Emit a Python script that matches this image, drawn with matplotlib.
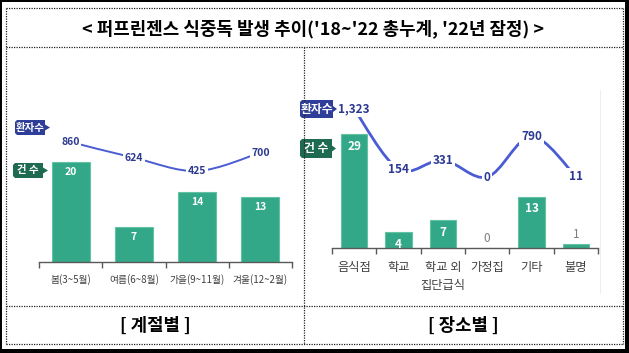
import matplotlib
matplotlib.use("Agg")
import matplotlib.pyplot as plt
from matplotlib.path import Path
from matplotlib.patches import PathPatch, Rectangle, Polygon
from matplotlib.transforms import Affine2D
from matplotlib.lines import Line2D

plt.rcParams['font.family'] = ['Noto Sans CJK KR', 'DejaVu Sans']

# ---------------- data ----------------
title = "< 퍼프린젠스 식중독 발생 추이('18~'22 총누계, '22년 잠정) >"
season_labels = ["봄(3~5월)", "여름(6~8월)", "가을(9~11월)", "겨울(12~2월)"]
season_cases = [20, 7, 14, 13]
season_patients = [860, 624, 425, 700]
place_labels = ["음식점", "학교", "학교 외\n집단급식", "가정집", "기타", "불명"]
place_cases = [29, 4, 7, 0, 13, 1]
place_patients = [1323, 154, 331, 0, 790, 11]
left_caption = "[ 계절별 ]"
right_caption = "[ 장소별 ]"
tag_patients = "환자수"
tag_cases = "건 수"

BAR = "#33a889"
BAR_EDGE = "#62c3a2"
LINE = "#4a5cd4"
NAVY_TXT = "#2b3990"
TAG_NAVY = "#2f3e98"
TAG_GREEN = "#1f6b52"
TICK_TXT = "#404040"

W, H = 629, 353
fig = plt.figure(figsize=(W / 100, H / 100), dpi=100)
px = Affine2D().scale(1 / W, -1 / H).translate(0, 1) + fig.transFigure

# ---------------- frame ----------------
for (x0, y0, w, h) in [(0, 0, W, 2), (0, 0, 2, H), (625, 0, 4, H), (0, 349, W, 4)]:
    fig.patches.append(Rectangle((x0, y0), w, h, transform=px, color="black", lw=0))

dot = dict(color="#222222", lw=0.9, linestyle=(0, (1, 1)), transform=px)
for (xa, ya, xb, yb) in [(6, 8, 623, 8), (6, 47, 623, 47), (6, 306, 623, 306), (6, 344, 623, 344),
                         (6, 8, 6, 344), (623, 8, 623, 344), (304, 47, 304, 344)]:
    fig.lines.append(Line2D([xa, xb], [ya, yb], **dot))
fig.lines.append(Line2D([600, 600], [90, 293], color="#eeeeee", lw=0.8, transform=px))

fig.text(313, 28.5, title, transform=px, ha="center", va="center", fontsize=12.9, fontweight="bold", color="black")
fig.text(155, 326, left_caption, transform=px, ha="center", va="center", fontsize=12.8, fontweight="bold", color="black")
fig.text(463, 326, right_caption, transform=px, ha="center", va="center", fontsize=12.8, fontweight="bold", color="black")


def smooth_path(xs, ys):
    pts = list(zip(xs, ys))
    n = len(pts)
    verts = [pts[0]]
    codes = [Path.MOVETO]
    for i in range(n - 1):
        p0 = pts[i - 1] if i > 0 else pts[i]
        p1 = pts[i]
        p2 = pts[i + 1]
        p3 = pts[i + 2] if i + 2 < n else pts[i + 1]
        c1 = (p1[0] + (p2[0] - p0[0]) / 6, p1[1] + (p2[1] - p0[1]) / 6)
        c2 = (p2[0] - (p3[0] - p1[0]) / 6, p2[1] - (p3[1] - p1[1]) / 6)
        verts += [c1, c2, p2]
        codes += [Path.CURVE4] * 3
    return Path(verts, codes)


def tag(x0, x1, tip, y0, y1, color, text, fs):
    ym = (y0 + y1) / 2
    r = 2
    verts = [(x0 + r, y0), (x1, y0), (x1, ym - 3), (tip, ym), (x1, ym + 3), (x1, y1),
             (x0 + r, y1), (x0, y1 - r), (x0, y0 + r), (x0 + r, y0)]
    fig.patches.append(Polygon(verts, closed=True, transform=px, facecolor=color, edgecolor="none"))
    fig.text((x0 + x1) / 2, ym, text, transform=px, ha="center", va="center",
             fontsize=fs, fontweight="bold", color="white")


def panel(rect, labels, cases, pats, ylim1, ylim2, lab_fs, num_fs, line_lw, in_off, fmt):
    ax = fig.add_axes(rect)
    x = list(range(len(labels)))
    ax.bar(x, cases, width=0.6, color=BAR, edgecolor=BAR_EDGE, linewidth=0.8, zorder=2)
    ax.set_xlim(-0.5, len(labels) - 0.5)
    ax.set_ylim(*ylim1)
    for s in ["top", "left", "right"]:
        ax.spines[s].set_visible(False)
    ax.spines["bottom"].set_color("#595959")
    ax.spines["bottom"].set_linewidth(1.0)
    ax.set_yticks([])
    ax.set_xticks(x)
    ax.set_xticklabels(labels, fontsize=lab_fs, color=TICK_TXT, linespacing=1.55)
    ax.tick_params(axis="x", which="major", length=0, pad=9)
    ax.set_xticks([i - 0.5 for i in range(len(labels) + 1)], minor=True)
    ax.tick_params(axis="x", which="minor", length=4, width=1.0, color="#595959", direction="out")
    ax.patch.set_alpha(0)
    for xi, v in zip(x, cases):
        if v >= 3:
            ax.annotate(str(v), (xi, v), xytext=(0, -in_off), textcoords="offset pixels",
                        ha="center", va="center", fontsize=num_fs, fontweight="bold", color="white", zorder=3)
        else:
            ax.annotate(str(v), (xi, v), xytext=(0, 3), textcoords="offset pixels",
                        ha="center", va="bottom", fontsize=num_fs, color="#7f7f7f", zorder=3)
    ax2 = ax.twinx()
    ax2.set_ylim(*ylim2)
    ax2.set_xlim(-0.5, len(labels) - 0.5)
    ax2.axis("off")
    ax2.add_patch(PathPatch(smooth_path(x, pats), fill=False, edgecolor=LINE, lw=line_lw, zorder=2))
    for xi, v in zip(x, pats):
        ax2.text(xi, v, fmt(v), ha="center", va="center", fontsize=num_fs, fontweight="bold",
                 color=NAVY_TXT, zorder=4,
                 bbox=dict(boxstyle="square,pad=0.15", facecolor="white", edgecolor="none"))
    return ax, ax2


# left panel: axes px x 39..292, y 90..262
panel([39 / W, (H - 262) / H, 253 / W, 172 / H], season_labels, season_cases, season_patients,
      (0, 34.4), (-940, 1640), 7, 7.5, 1.4, 10, lambda v: f"{v:,}")
# right panel: axes px x 332..598, y 90..248
panel([332 / W, (H - 248) / H, 266 / W, 158 / H], place_labels, place_cases, place_patients,
      (0, 40.2), (-1381, 1693), 8.8, 8.5, 2.0, 12, lambda v: f"{v:,}")

tag(15, 45, 50, 120, 135, TAG_NAVY, tag_patients, 7.5)
tag(13, 43, 48, 163, 178, TAG_GREEN, tag_cases, 7.5)
tag(300, 333, 337, 100, 118, TAG_NAVY, tag_patients, 8.5)
tag(300, 332, 336, 139, 158, TAG_GREEN, tag_cases, 8.5)

fig.savefig("out.png", dpi=100)
